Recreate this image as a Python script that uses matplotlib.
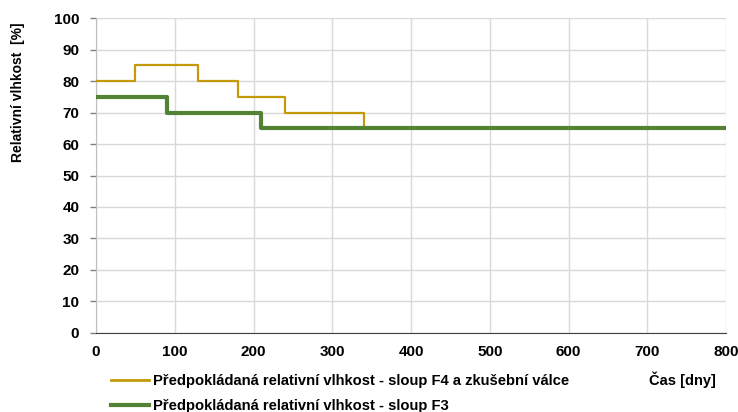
import matplotlib
matplotlib.use("Agg")
import matplotlib.pyplot as plt
from matplotlib.lines import Line2D

plt.rcParams['font.family'] = ['Liberation Sans', 'DejaVu Sans']

# Step change times [days] and relative humidity levels [%]
f4_days = [0, 50, 130, 180, 240, 340, 800]
f4_rh = [80, 85, 80, 75, 70, 65, 65]
f3_days = [0, 90, 210, 800]
f3_rh = [75, 70, 65, 65]

label_f4 = "Předpokládaná relativní vlhkost - sloup F4 a zkušební válce"
label_f3 = "Předpokládaná relativní vlhkost - sloup F3"

c_f4 = "#C49A0A"
c_f3 = "#548235"

fig = plt.figure(figsize=(7.38, 4.12), dpi=100)
ax = fig.add_axes([0.130, 0.192, 0.854, 0.764])

ax.step(f4_days, f4_rh, where="post", color=c_f4, lw=1.6, zorder=3)
ax.step(f3_days, f3_rh, where="post", color=c_f3, lw=3.0, zorder=3)

ax.set_xlim(0, 800)
ax.set_ylim(0, 100)
ax.set_xticks(range(0, 801, 100))
ax.set_yticks(range(0, 101, 10))
ax.grid(True, color="#D9D9D9", lw=1.0)
ax.set_axisbelow(True)
for s in ["top", "right"]:
    ax.spines[s].set_visible(False)
ax.spines["left"].set_color("#BFBFBF")
ax.spines["bottom"].set_color("#404040")
ax.tick_params(axis="both", labelsize=11, length=4, color="#808080", width=1)
ax.tick_params(axis="y", pad=8)
ax.tick_params(axis="x", length=0, pad=9)
for lab in ax.get_xticklabels() + ax.get_yticklabels():
    lab.set_fontweight("bold")

fig.text(0.025, 0.777, "Relativní vlhkost  [%]", fontsize=10, fontweight="bold",
         rotation=90, ha="center", va="center")

fig.text(0.925, 0.078, "Čas [dny]", fontsize=10.5, fontweight="bold", ha="center", va="center")

handles = [Line2D([], [], color=c_f4, lw=2.0), Line2D([], [], color=c_f3, lw=3.0)]
fig.legend(handles, [label_f4, label_f3], loc="upper left", bbox_to_anchor=(0.150, 0.093),
           frameon=False, prop={"weight": "bold", "size": 10.6},
           handlelength=2.6, handletextpad=0.3, labelspacing=0.8, borderpad=0, borderaxespad=0)

fig.savefig("out.png", dpi=100)
